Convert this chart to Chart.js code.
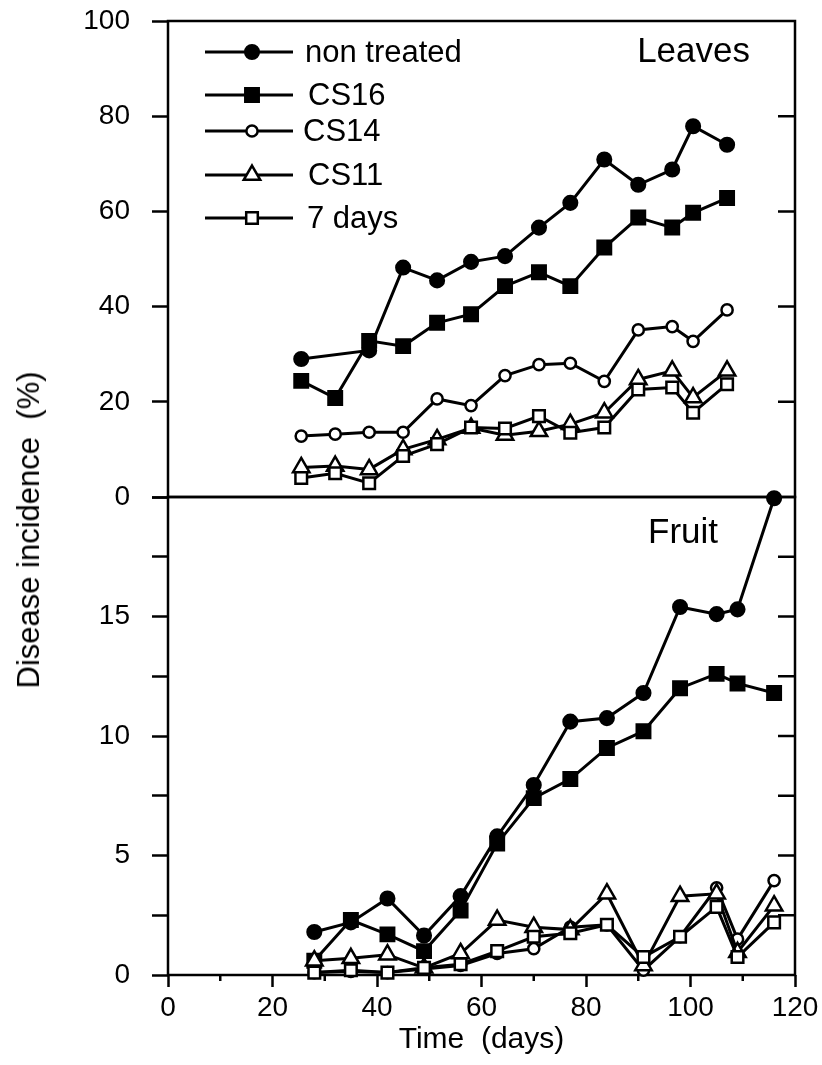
<!DOCTYPE html>
<html>
<head>
<meta charset="utf-8">
<script src="https://cdn.jsdelivr.net/npm/chart.js@4.4.1/dist/chart.umd.min.js"></script>
<style>
  html, body { margin: 0; padding: 0; background: #fff; }
  #wrap { position: relative; width: 822px; height: 1065px; overflow: hidden; }
  canvas { position: absolute; left: 0; }
  #leaves { top: 0; }
  #fruit { top: 480px; }
  #ytitle {
    position: absolute; left: 29px; top: 530px;
    transform: translate(-50%, -50%) rotate(-90deg);
    font: 31px 'Liberation Sans', Arial, sans-serif;
    white-space: pre; color: #000;
  }
</style>
</head>
<body>
<div id="wrap">
  <canvas id="fruit" width="822" height="585"></canvas>
  <canvas id="leaves" width="822" height="520"></canvas>
  <div id="ytitle">Disease incidence  (%)</div>
</div>
<script>
var seriesNames = ['non treated', 'CS16', 'CS14', 'CS11', '7 days'];

// Leaves panel - sampling days and % incidence
var leafDays = [25.5, 32, 38.5, 45, 51.5, 58, 64.5, 71, 77, 83.5, 90, 96.5, 100.5, 107];
var leafNonTreated = [29, null, 30.8, 48.2, 45.5, 49.4, 50.6, 56.6, 61.8, 70.9, 65.6, 68.8, 77.9, 74];
var leafCS16 = [24.4, 20.8, 32.8, 31.7, 36.6, 38.4, 44.3, 47.2, 44.3, 52.4, 58.7, 56.6, 59.7, 62.8];
var leafCS14 = [12.8, 13.2, 13.6, 13.6, 20.6, 19.2, 25.5, 27.8, 28.1, 24.3, 35.1, 35.8, 32.7, 39.3];
var leafCS11 = [6.2, 6.5, 5.8, 10, 12.1, 14.5, 13, 13.8, 15.3, 17.7, 24.7, 26.5, 20.9, 26.5];
var leaf7Days = [4, 5, 2.9, 8.6, 11.1, 14.6, 14.4, 17, 13.5, 14.6, 22.6, 23, 17.7, 23.7];

// Fruit panel
var fruitDays = [28, 35, 42, 49, 56, 63, 70, 77, 84, 91, 98, 105, 109, 116];
var fruitNonTreated = [1.8, 2.2, 3.2, 1.65, 3.3, 5.8, 7.95, 10.6, 10.75, 11.8, 15.4, 15.1, 15.3, 19.95];
var fruitCS16 = [0.6, 2.3, 1.7, 1.0, 2.7, 5.5, 7.4, 8.2, 9.5, 10.2, 12.0, 12.6, 12.2, 11.8];
var fruitCS14 = [0.1, 0.15, 0.1, 0.25, 0.4, 0.9, 1.1, 2.0, 2.1, 0.2, 1.6, 3.65, 1.5, 3.95];
var fruitCS11 = [0.6, 0.7, 0.85, 0.3, 0.9, 2.3, 2.0, 1.9, 3.4, 0.4, 3.3, 3.4, 0.95, 2.9];
var fruit7Days = [0.1, 0.2, 0.1, 0.3, 0.45, 1.0, 1.6, 1.75, 2.1, 0.75, 1.6, 2.85, 0.75, 2.2];

// axis ticks
var xTicks = [0, 20, 40, 60, 80, 100, 120];
var xMinorTicks = [10, 30, 50, 70, 90, 110];
var leafYTicks = [0, 20, 40, 60, 80, 100];
var fruitYTicks = [0, 2.5, 5, 7.5, 10, 12.5, 15, 17.5, 20];
var fruitYLabels = ['0', '', '5', '', '10', '', '15', '', ''];

var FONT = "'Liberation Sans', Arial, Helvetica, sans-serif";
Chart.defaults.font.family = FONT;
Chart.defaults.color = '#000';

var markers = [
    { pointStyle: 'circle', radius: 6.8, fill: '#000' },
    { pointStyle: 'rect', radius: 9.5, fill: '#000' },
    { pointStyle: 'circle', radius: 5.6, fill: '#fff' },
    { pointStyle: 'triangle', radius: 9.5, fill: '#fff' },
    { pointStyle: 'rect', radius: 8.2, fill: '#fff' }
];

function makeDatasets(days, values) {
    return values.map(function (vals, i) {
        return {
            label: seriesNames[i],
            data: days.map(function (d, j) { return { x: d, y: vals[j] }; }),
            borderColor: '#000',
            borderWidth: 3,
            pointStyle: markers[i].pointStyle,
            pointRadius: markers[i].radius,
            pointBackgroundColor: markers[i].fill,
            pointBorderColor: '#000',
            pointBorderWidth: 2.5,
            spanGaps: true,
            clip: false,
            tension: 0,
            order: values.length - i // later series drawn on top
        };
    });
}

// box round the plot area, inward ticks on the right, minor ticks on x
var framePlugin = {
    id: 'frame',
    beforeDatasetsDraw: function (chart, args, opts) {
        var ctx = chart.ctx, a = chart.chartArea, ys = chart.scales.y;
        ctx.save();
        ctx.strokeStyle = '#000';
        ctx.lineWidth = 2.5;
        ctx.strokeRect(a.left, a.top, a.right - a.left, a.bottom - a.top);
        ctx.beginPath();
        opts.rightTicks.forEach(function (v) {
            var py = ys.getPixelForValue(v);
            ctx.moveTo(a.right, py);
            ctx.lineTo(a.right - 17, py);
        });
        (opts.minorX || []).forEach(function (v) {
            var px = chart.scales.x.getPixelForValue(v);
            ctx.moveTo(px, a.bottom);
            ctx.lineTo(px, a.bottom + 6);
        });
        ctx.stroke();
        ctx.restore();
    }
};

var labelPlugin = {
    id: 'panelLabel',
    afterDraw: function (chart, args, opts) {
        var ctx = chart.ctx;
        ctx.save();
        ctx.fillStyle = '#000';
        ctx.font = opts.size + 'px ' + FONT;
        ctx.textAlign = opts.align;
        ctx.textBaseline = 'alphabetic';
        ctx.fillText(opts.text, opts.x, opts.y);
        ctx.restore();
    }
};

function drawMarker(ctx, m, x, y) {
    ctx.fillStyle = m.fill;
    ctx.strokeStyle = '#000';
    ctx.lineWidth = 2.5;
    Chart.helpers.drawPoint(ctx, { pointStyle: m.pointStyle, radius: m.radius, rotation: 0, borderWidth: 2.5 }, x, y);
}

// legend: short line with the marker in the middle, then the name
var legendPlugin = {
    id: 'lineLegend',
    afterDraw: function (chart, args, opts) {
        var ctx = chart.ctx;
        ctx.save();
        opts.rows.forEach(function (rowY, i) {
            ctx.strokeStyle = '#000';
            ctx.lineWidth = 3;
            ctx.beginPath();
            ctx.moveTo(opts.lineFrom, rowY);
            ctx.lineTo(opts.lineTo, rowY);
            ctx.stroke();
            drawMarker(ctx, markers[i], opts.markerX, rowY);
            ctx.fillStyle = '#000';
            ctx.font = opts.size + 'px ' + FONT;
            ctx.textAlign = 'left';
            ctx.textBaseline = 'middle';
            ctx.fillText(seriesNames[i], opts.textX[i], rowY + 1);
        });
        ctx.restore();
    }
};

// keep the plot box exactly where the layout padding puts it
function noOverflow(scale) {
    scale.paddingTop = 0;
    scale.paddingBottom = 0;
    scale.paddingLeft = 0;
    scale.paddingRight = 0;
}

function yAxis(ticks, labels, max) {
    return {
        min: 0, max: max,
        afterBuildTicks: function (scale) {
            scale.ticks = ticks.map(function (v) { return { value: v }; });
        },
        afterFit: function (scale) { scale.width = 168; noOverflow(scale); },
        ticks: {
            font: { size: 28 },
            padding: 22,
            callback: function (v, i) { return labels ? labels[i] : String(v); }
        },
        grid: { drawOnChartArea: false, tickLength: 16, tickWidth: 2.5, tickColor: '#000' },
        border: { display: false }
    };
}

var leafChart = new Chart(document.getElementById('leaves'), {
    type: 'line',
    data: {
        datasets: makeDatasets(leafDays, [leafNonTreated, leafCS16, leafCS14, leafCS11, leaf7Days])
    },
    options: {
        responsive: false,
        animation: false,
        devicePixelRatio: 1,
        layout: { padding: { top: 21, right: 27, bottom: 23, left: 0 } },
        scales: {
            x: { type: 'linear', min: 0, max: 120, display: false },
            y: yAxis(leafYTicks, null, 100)
        },
        plugins: {
            legend: { display: false },
            tooltip: { enabled: false },
            frame: { rightTicks: leafYTicks.slice(1, -1) },
            panelLabel: { text: 'Leaves', x: 750, y: 62, size: 35, align: 'right' },
            lineLegend: {
                rows: [52, 95, 131, 175, 218],
                lineFrom: 205, lineTo: 293, markerX: 252,
                textX: [305, 308, 303, 308, 307],
                size: 31
            }
        }
    },
    plugins: [framePlugin, labelPlugin, legendPlugin]
});

var fruitChart = new Chart(document.getElementById('fruit'), {
    type: 'line',
    data: {
        datasets: makeDatasets(fruitDays, [fruitNonTreated, fruitCS16, fruitCS14, fruitCS11, fruit7Days])
    },
    options: {
        responsive: false,
        animation: false,
        devicePixelRatio: 1,
        layout: { padding: { top: 17, right: 27, bottom: 0, left: 0 } },
        scales: {
            x: {
                type: 'linear', min: 0, max: 120,
                afterBuildTicks: function (scale) {
                    scale.ticks = xTicks.map(function (v) { return { value: v }; });
                },
                afterFit: function (scale) { scale.height = 90; noOverflow(scale); },
                ticks: { font: { size: 28 }, padding: 4, maxRotation: 0 },
                grid: { drawOnChartArea: false, tickLength: 12, tickWidth: 2.5, tickColor: '#000' },
                border: { display: false },
                title: {
                    display: true, text: 'Time  (days)',
                    font: { size: 30 }, padding: { top: 0, bottom: 7 }
                }
            },
            y: yAxis(fruitYTicks, fruitYLabels, 20)
        },
        plugins: {
            legend: { display: false },
            tooltip: { enabled: false },
            frame: { rightTicks: fruitYTicks.slice(1, -1), minorX: xMinorTicks },
            panelLabel: { text: 'Fruit', x: 648, y: 63, size: 35, align: 'left' }
        }
    },
    plugins: [framePlugin, labelPlugin]
});
</script>
</body>
</html>
